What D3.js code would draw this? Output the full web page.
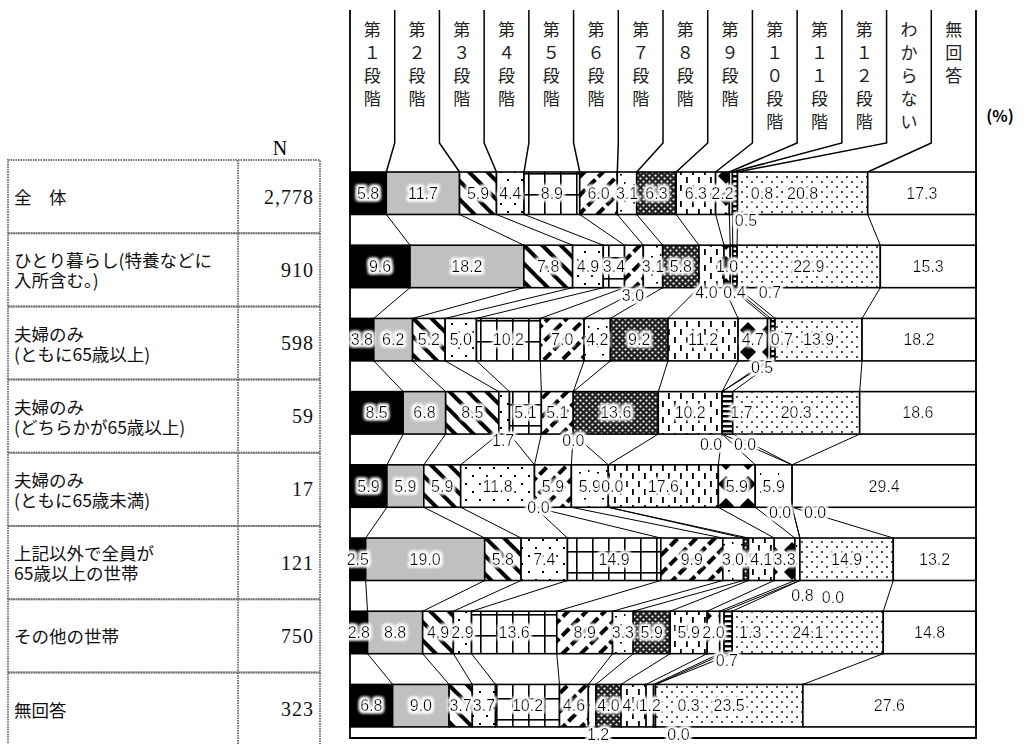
<!DOCTYPE html>
<html>
<head>
<meta charset="utf-8">
<script src="https://cdn.jsdelivr.net/npm/d3@7"></script>
<style>
body { margin: 0; background: #fff; }
svg { display: block; }
</style>
</head>
<body>
<div id="chart"></div>
<script>
// categories (header, read top to bottom)
var categories = ['第１段階', '第２段階', '第３段階', '第４段階', '第５段階', '第６段階', '第７段階',
  '第８段階', '第９段階', '第１０段階', '第１１段階', '第１２段階', 'わからない', '無回答'];

// household groups (table on the left)
var groupLabels = [
  ['全　体'],
  ['ひとり暮らし(特養などに', '入所含む。)'],
  ['夫婦のみ', '(ともに65歳以上)'],
  ['夫婦のみ', '(どちらかが65歳以上)'],
  ['夫婦のみ', '(ともに65歳未満)'],
  ['上記以外で全員が', '65歳以上の世帯'],
  ['その他の世帯'],
  ['無回答']
];
var groupN = [2778, 910, 598, 59, 17, 121, 750, 323];

// percentages per group, in category order
var vAll         = [5.8, 11.7, 5.9, 4.4, 8.9, 6.0, 3.1, 6.3, 6.3, 2.2, 0.5, 0.8, 20.8, 17.3];
var vSingle      = [9.6, 18.2, 7.8, 4.9, 3.4, 3.0, 3.1, 5.8, 4.0, 1.0, 0.4, 0.7, 22.9, 15.3];
var vCouple65    = [3.8, 6.2, 5.2, 5.0, 10.2, 7.0, 4.2, 9.2, 11.2, 4.7, 0.5, 0.7, 13.9, 18.2];
var vCoupleOne65 = [8.5, 6.8, 8.5, 1.7, 5.1, 5.1, 0.0, 13.6, 10.2, 0.0, 0.0, 1.7, 20.3, 18.6];
var vCoupleU65   = [5.9, 5.9, 5.9, 11.8, 0.0, 5.9, 5.9, 0.0, 17.6, 5.9, 5.9, 0.0, 0.0, 29.4];
var vAllOver65   = [2.5, 19.0, 5.8, 7.4, 14.9, 9.9, 3.3, 0.8, 4.1, 3.3, 0.8, 0.0, 14.9, 13.2];
var vOther       = [2.8, 8.8, 4.9, 2.9, 13.6, 8.9, 3.3, 5.9, 5.9, 2.0, 0.7, 1.3, 24.1, 14.8];
var vNoAnswer    = [6.8, 9.0, 3.7, 3.7, 10.2, 4.6, 1.2, 4.0, 4.0, 1.2, 0.3, 0.0, 23.5, 27.6];

var rows = [vAll, vSingle, vCouple65, vCoupleOne65, vCoupleU65, vAllOver65, vOther, vNoAnswer];

// label placement tweaks for the thin segments (row, category, offset)
var labelNudge = [
  {r: 0, c: 10, dx: 15, dy: 27}, {r: 0, c: 11, dx: 27, dy: 0},
  {r: 1, c: 5, dx: -1, dy: 29}, {r: 1, c: 8, dx: -5, dy: 26}, {r: 1, c: 10, dx: 3, dy: 26}, {r: 1, c: 11, dx: 35, dy: 26},
  {r: 2, c: 10, dx: -7, dy: 28}, {r: 2, c: 11, dx: 9, dy: 0},
  {r: 3, c: 3, dx: -1, dy: 28}, {r: 3, c: 6, dx: 0, dy: 28}, {r: 3, c: 9, dx: -11, dy: 32}, {r: 3, c: 10, dx: 23, dy: 32}, {r: 3, c: 11, dx: 14, dy: 0},
  {r: 4, c: 4, dx: 4, dy: 21}, {r: 4, c: 7, dx: 4, dy: 0}, {r: 4, c: 11, dx: -12, dy: 26}, {r: 4, c: 12, dx: 23, dy: 26},
  {r: 5, c: 10, dx: 5, dy: 36}, {r: 5, c: 11, dx: 33, dy: 38},
  {r: 6, c: 10, dx: 5, dy: 28}, {r: 6, c: 11, dx: 22, dy: 0},
  {r: 7, c: 6, dx: 6, dy: 29}, {r: 7, c: 10, dx: 34, dy: 0}, {r: 7, c: 11, dx: 23, dy: 29}
];

var width = 1029, height = 744;
var svg = d3.select('#chart').append('svg')
  .attr('width', width)
  .attr('height', height);
var defs = svg.append('defs');

// white glow behind the value labels
var halo = defs.append('filter').attr('id', 'halo').attr('x', '-30%').attr('y', '-40%').attr('width', '160%').attr('height', '180%');
halo.append('feMorphology').attr('in', 'SourceAlpha').attr('operator', 'dilate').attr('radius', 2).attr('result', 'd');
halo.append('feGaussianBlur').attr('in', 'd').attr('stdDeviation', 1.6).attr('result', 'b');
halo.append('feFlood').attr('flood-color', '#fff');
halo.append('feComposite').attr('in2', 'b').attr('operator', 'in').attr('result', 'w');
var hm = halo.append('feMerge');
hm.append('feMergeNode').attr('in', 'w');
hm.append('feMergeNode').attr('in', 'w');
hm.append('feMergeNode').attr('in', 'SourceGraphic');

function pattern(id, w, h, draw, transform) {
  var p = defs.append('pattern').attr('id', id)
    .attr('patternUnits', 'userSpaceOnUse')
    .attr('width', w).attr('height', h);
  if (transform) p.attr('patternTransform', transform);
  p.append('rect').attr('width', w).attr('height', h).attr('fill', '#fff');
  draw(p);
}
// 3: back diagonal bands
pattern('p3', 13, 13, function (p) {
  p.append('rect').attr('x', 0).attr('y', 0).attr('width', 4).attr('height', 13).attr('fill', '#000');
}, 'rotate(-45)');
// 4: sparse dots
pattern('p4', 14, 16, function (p) {
  p.append('rect').attr('x', 3).attr('y', 3).attr('width', 2).attr('height', 2).attr('fill', '#000');
  p.append('rect').attr('x', 10).attr('y', 11).attr('width', 2).attr('height', 2).attr('fill', '#000');
});
// 5: grid / brick
pattern('p5', 16, 21, function (p) {
  p.append('rect').attr('x', 0).attr('y', 5).attr('width', 16).attr('height', 1.6).attr('fill', '#000');
  p.append('rect').attr('x', 0).attr('y', 0).attr('width', 1.6).attr('height', 21).attr('fill', '#000');
});
// 6: forward diagonal dashes
pattern('p6', 13, 14, function (p) {
  p.append('rect').attr('x', 0).attr('y', 0).attr('width', 4).attr('height', 10).attr('fill', '#000');
}, 'rotate(45)');
// 7: confetti
pattern('p7', 18, 18, function (p) {
  p.append('rect').attr('x', 3).attr('y', 4).attr('width', 2).attr('height', 1.5).attr('fill', '#000');
  p.append('rect').attr('x', 12).attr('y', 2).attr('width', 1.5).attr('height', 2).attr('fill', '#000');
  p.append('rect').attr('x', 8).attr('y', 12).attr('width', 2).attr('height', 1.5).attr('fill', '#000');
});
// 8: dense checker
pattern('p8', 6, 6, function (p) {
  p.append('rect').attr('width', 6).attr('height', 6).attr('fill', '#222');
  p.append('circle').attr('cx', 1.5).attr('cy', 1.5).attr('r', 1.1).attr('fill', '#fff');
  p.append('circle').attr('cx', 4.5).attr('cy', 4.5).attr('r', 1.1).attr('fill', '#fff');
});
// 9: vertical dashes
pattern('p9', 12, 16, function (p) {
  p.append('rect').attr('x', 2).attr('y', 1).attr('width', 1.8).attr('height', 6).attr('fill', '#000');
  p.append('rect').attr('x', 8).attr('y', 9).attr('width', 1.8).attr('height', 6).attr('fill', '#000');
});
// 10: diamonds
pattern('p10', 22, 22, function (p) {
  [[0, 0], [22, 0], [0, 22], [22, 22]].forEach(function (c) {
    p.append('path').attr('d', 'M' + c[0] + ',' + (c[1] - 8) + 'L' + (c[0] + 8) + ',' + c[1] + 'L' + c[0] + ',' + (c[1] + 8) + 'L' + (c[0] - 8) + ',' + c[1] + 'Z').attr('fill', '#000');
  });
});
// 11: nearly white
pattern('p11', 18, 18, function (p) {
  p.append('rect').attr('x', 4).attr('y', 5).attr('width', 1.2).attr('height', 2).attr('fill', '#000');
});
// 12: horizontal stripes
pattern('p12', 4, 5, function (p) {
  p.append('rect').attr('x', 0).attr('y', 0).attr('width', 4).attr('height', 2.5).attr('fill', '#000');
});
// わからない: fine dots
pattern('p13', 10, 10, function (p) {
  p.append('circle').attr('cx', 2).attr('cy', 2).attr('r', 0.9).attr('fill', '#000');
  p.append('circle').attr('cx', 7).attr('cy', 7).attr('r', 0.9).attr('fill', '#000');
});

var fills = ['#000', '#c0c0c0', 'url(#p3)', 'url(#p4)', 'url(#p5)', 'url(#p6)', 'url(#p7)',
  'url(#p8)', 'url(#p9)', 'url(#p10)', 'url(#p11)', 'url(#p12)', 'url(#p13)', '#fff'];

var x = d3.scaleLinear().domain([0, 100]).range([350, 976]);
var y = d3.scaleBand().domain(d3.range(rows.length))
  .range([172, 172 + 8 * 73.2 - 30.7])
  .paddingInner(0.42).paddingOuter(0);
var bh = y.bandwidth();
var step = y.step();
var fmt = d3.format('.1f');
var fmtN = d3.format(',');

// stacked positions (100% stacked)
var stacked = rows.map(function (vals) {
  var total = d3.sum(vals), acc = 0;
  return vals.map(function (v, i) {
    var s = { c: i, v: v, x0: acc / total * 100 };
    acc += v;
    s.x1 = acc / total * 100;
    return s;
  });
});

// ---- left table ----
var table = svg.append('g').attr('class', 'table');
var tx0 = 8, tx1 = 238, tx2 = 320;
table.append('text').attr('x', 280).attr('y', 148)
  .attr('text-anchor', 'middle').attr('dominant-baseline', 'central')
  .style('font-family', 'Liberation Serif, serif').style('font-size', '20px')
  .text('N');
groupLabels.forEach(function (lines, r) {
  var top = y(r) - 12;
  var cy = top + step / 2;
  table.append('rect').attr('x', tx0).attr('y', top).attr('width', tx2 - tx0).attr('height', step)
    .attr('fill', 'none').attr('stroke', '#777').attr('stroke-width', 2).attr('stroke-dasharray', '1.5,1');
  table.append('line').attr('x1', tx1).attr('x2', tx1).attr('y1', top).attr('y2', top + step)
    .attr('stroke', '#777').attr('stroke-width', 2).attr('stroke-dasharray', '1.5,1');
  lines.forEach(function (t, k) {
    table.append('text').attr('x', 14)
      .attr('y', cy + (k - (lines.length - 1) / 2) * 20)
      .attr('dominant-baseline', 'central')
      .style('font-family', 'Noto Sans CJK JP, sans-serif').style('font-size', '17.5px')
      .style('fill', '#111')
      .text(t);
  });
  table.append('text').attr('x', 314).attr('y', cy)
    .attr('text-anchor', 'end').attr('dominant-baseline', 'central')
    .style('font-family', 'Liberation Serif, serif').style('font-size', '20px')
    .style('letter-spacing', '1px').style('fill', '#111')
    .text(fmtN(groupN[r]));
});

// ---- header ----
var colW = (x(100) - x(0)) / categories.length;
var header = svg.append('g').attr('class', 'header');
categories.forEach(function (cat, i) {
  var cx = x(0) + colW * (i + 0.5);
  Array.from(cat).forEach(function (ch, k) {
    header.append('text').attr('x', cx).attr('y', 28 + k * 23)
      .attr('text-anchor', 'middle').attr('dominant-baseline', 'central')
      .style('font-family', 'Noto Sans CJK JP, sans-serif').style('font-size', '17px')
      .style('fill', '#222')
      .text(ch);
  });
});
header.append('text').attr('x', 1000).attr('y', 115)
  .attr('text-anchor', 'middle').attr('dominant-baseline', 'central')
  .style('font-family', 'Noto Sans CJK JP, sans-serif').style('font-size', '16px').style('font-weight', 'bold')
  .text('(%)');
d3.range(1, categories.length).forEach(function (j) {
  var xd = x(0) + colW * j;
  var xb = x(stacked[0][j - 1].x1);
  header.append('path')
    .attr('d', 'M' + xd + ',10L' + xd + ',143L' + xb + ',' + y(0))
    .attr('fill', 'none').attr('stroke', '#000').attr('stroke-width', 1.5);
});

// ---- connector lines between bars ----
var conn = svg.append('g').attr('class', 'connectors');
d3.range(rows.length - 1).forEach(function (r) {
  d3.range(categories.length - 1).forEach(function (i) {
    conn.append('line')
      .attr('x1', x(stacked[r][i].x1)).attr('y1', y(r) + bh)
      .attr('x2', x(stacked[r + 1][i].x1)).attr('y2', y(r + 1))
      .attr('stroke', '#000').attr('stroke-width', 1);
  });
});

// ---- bars ----
var bars = svg.append('g').attr('class', 'bars');
stacked.forEach(function (segs, r) {
  bars.selectAll('.seg' + r)
    .data(segs).enter()
    .append('rect')
    .attr('class', 'seg' + r)
    .attr('x', function (d) { return x(d.x0); })
    .attr('y', y(r))
    .attr('width', function (d) { return x(d.x1) - x(d.x0); })
    .attr('height', bh)
    .attr('fill', function (d) { return fills[d.c]; })
    .attr('stroke', '#000')
    .attr('stroke-width', 1.6);
});

// ---- frame ----
svg.append('path')
  .attr('d', 'M' + x(0) + ',10L' + x(0) + ',738L' + x(100) + ',738L' + x(100) + ',10')
  .attr('fill', 'none').attr('stroke', '#000').attr('stroke-width', 1.8);

// ---- value labels ----
var labels = svg.append('g').attr('class', 'labels');
stacked.forEach(function (segs, r) {
  segs.forEach(function (d) {
    var n = labelNudge.find(function (o) { return o.r === r && o.c === d.c; }) || { dx: 0, dy: 0 };
    labels.append('text')
      .attr('x', (x(d.x0) + x(d.x1)) / 2 + n.dx)
      .attr('y', y(r) + bh / 2 + n.dy)
      .attr('text-anchor', 'middle').attr('dominant-baseline', 'central')
      .attr('filter', 'url(#halo)')
      .style('font-family', 'Liberation Sans, Arial, sans-serif').style('font-size', '16px')
      .style('fill', '#000')
      .text(fmt(d.v));
  });
});
</script>
</body>
</html>
